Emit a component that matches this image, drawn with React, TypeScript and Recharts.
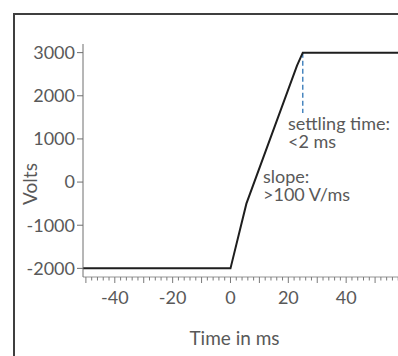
import React from 'react';
import { LineChart, Line, XAxis, YAxis, ReferenceLine } from 'recharts';

// step response: time (ms) against output (V)
const timeMs = [-51, 0, 5.5, 23, 25, 60];
const volts = [-2000, -2000, -500, 2700, 3000, 3000];

const voltTicks = [-2000, -1000, 0, 1000, 2000, 3000];
const timeLabels = [-40, -20, 0, 20, 40];
// small ruler ticks every 2 ms along the time axis
const timeMinorTicks = Array.from({ length: 56 }, (_, i) => -50 + i * 2);

const settleTime = 25;
const settleTop = 3000;
const settleBottom = 1600;

const data = timeMs.map((t, i) => ({ time: t, volts: volts[i] }));

const FONT = 'Lato, sans-serif';
const TEXT = '#595959';

const TimeTick = (props: any) => {
  const { x, y, payload } = props;
  const v = payload.value;
  const major = v % 10 === 0;
  return (
    <g>
      <line x1={x} x2={x} y1={y} y2={y + (major ? 6 : 3.5)} stroke="#7a7a7a" strokeWidth={1} />
      {timeLabels.includes(v) && (
        <text x={x} y={y + 27} textAnchor="middle" fill={TEXT} fontSize={18} fontFamily={FONT}>
          {v}
        </text>
      )}
    </g>
  );
};

const App = () => {
  return (
    <div
      style={{
        position: 'absolute',
        left: 0,
        top: 0,
        width: 398,
        height: 356,
        overflow: 'hidden',
        background: '#fff',
      }}
    >
      <div
        style={{
          position: 'absolute',
          left: 13,
          top: 13,
          width: 500,
          height: 500,
          border: '2px solid #3f3f3f',
        }}
      />
      <div style={{ position: 'absolute', left: 0, top: 0 }}>
        <LineChart width={404} height={356} data={data} margin={{ top: 44, right: 0, bottom: 0, left: 0 }}>
          <XAxis
            dataKey="time"
            type="number"
            domain={[-51, 60]}
            ticks={timeMinorTicks}
            interval={0}
            tick={<TimeTick />}
            tickLine={false}
            tickSize={0}
            tickMargin={0}
            height={79}
            axisLine={{ stroke: '#b8b8b8', strokeWidth: 1.5 }}
            allowDataOverflow
          />
          <YAxis
            type="number"
            domain={[-2200, 3200]}
            ticks={voltTicks}
            interval={0}
            width={83}
            tickSize={6}
            tickMargin={2}
            axisLine={{ stroke: '#6e6e6e' }}
            tickLine={{ stroke: '#6e6e6e' }}
            tick={{ fill: TEXT, fontSize: 18, fontFamily: FONT }}
            allowDataOverflow
          />
          <ReferenceLine
            segment={[
              { x: settleTime, y: settleTop },
              { x: settleTime, y: settleBottom },
            ]}
            stroke="#2e75b6"
            strokeDasharray="5 3"
            strokeWidth={1.3}
          />
          <Line
            type="linear"
            dataKey="volts"
            stroke="#1e1e1e"
            strokeWidth={2}
            dot={false}
            isAnimationActive={false}
          />
        </LineChart>
      </div>
      <svg
        width={398}
        height={356}
        style={{ position: 'absolute', left: 0, top: 0, pointerEvents: 'none' }}
        fontFamily={FONT}
        fill={TEXT}
      >
        <text x={288} y={130} fontSize={18}>settling time:</text>
        <text x={288} y={148} fontSize={18}>&lt;2 ms</text>
        <text x={263} y={183} fontSize={18}>slope:</text>
        <text x={263} y={201} fontSize={18}>&gt;100 V/ms</text>
        <text x={37} y={184} fontSize={19} textAnchor="middle" transform="rotate(-90 37 184)">
          Volts
        </text>
        <text x={234.5} y={345} fontSize={19} textAnchor="middle">
          Time in ms
        </text>
      </svg>
    </div>
  );
};

export default App;
